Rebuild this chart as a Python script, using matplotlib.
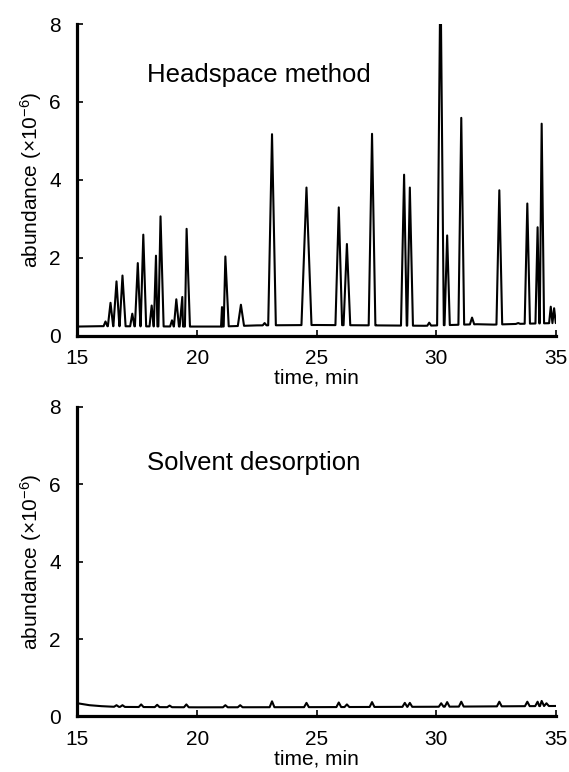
import numpy as np
import matplotlib.pyplot as plt

plt.rcParams['font.family'] = ['Liberation Sans', 'DejaVu Sans']
plt.rcParams['mathtext.fontset'] = 'custom'
plt.rcParams['mathtext.rm'] = 'Liberation Sans'
plt.rcParams['mathtext.it'] = 'Liberation Sans:italic'

# headspace chromatogram: peak retention times (min), apex heights (x10^6), half base widths (min)
hs_time = [16.17, 16.38, 16.63, 16.88, 17.29, 17.52, 17.75, 18.10, 18.28, 18.47,
           18.95, 19.13, 19.38, 19.56, 21.04, 21.18, 21.83, 22.82, 23.13, 24.57,
           25.92, 26.26, 27.31, 28.65, 28.89, 29.70, 30.17, 30.45, 31.04, 31.49,
           32.63, 33.42, 33.80, 34.23, 34.40, 34.78, 34.92]
hs_height = [0.36, 0.84, 1.39, 1.54, 0.56, 1.86, 2.59, 0.77, 2.05, 3.06,
             0.39, 0.93, 0.99, 2.74, 0.73, 2.03, 0.79, 0.32, 5.17, 3.80,
             3.29, 2.35, 5.18, 4.13, 3.80, 0.33, 9.50, 2.57, 5.59, 0.46,
             3.73, 0.32, 3.39, 2.78, 5.44, 0.74, 0.70]
hs_width = [0.08, 0.11, 0.13, 0.13, 0.09, 0.12, 0.12, 0.09, 0.10, 0.13,
            0.08, 0.11, 0.11, 0.15, 0.07, 0.14, 0.13, 0.08, 0.16, 0.21,
            0.14, 0.14, 0.14, 0.13, 0.13, 0.08, 0.14, 0.11, 0.12, 0.09,
            0.12, 0.10, 0.11, 0.09, 0.10, 0.07, 0.07]
hs_base_t = [15, 16, 19.7, 21, 22.5, 25, 27.5, 29.5, 31.7, 32.4, 33.5, 35]
hs_base_y = [0.23, 0.24, 0.23, 0.23, 0.26, 0.27, 0.26, 0.25, 0.29, 0.28, 0.30, 0.32]

# solvent desorption chromatogram
sd_time = [16.63, 16.88, 17.66, 18.33, 18.85, 19.55, 21.18, 21.80, 23.13, 24.57,
           25.92, 26.26, 27.31, 28.68, 28.89, 30.20, 30.45, 31.04, 32.63, 33.80,
           34.23, 34.40, 34.60]
sd_height = [0.29, 0.29, 0.31, 0.30, 0.28, 0.31, 0.29, 0.29, 0.39, 0.35,
             0.36, 0.31, 0.37, 0.35, 0.35, 0.34, 0.37, 0.38, 0.38, 0.38,
             0.38, 0.40, 0.34]
sd_width = [0.10] * len(sd_time)
sd_base_t = [15, 15.5, 16, 16.5, 17, 20, 25, 30, 35]
sd_base_y = [0.34, 0.29, 0.265, 0.25, 0.245, 0.235, 0.24, 0.25, 0.27]

xticks = [15, 20, 25, 30, 35]
yticks = [0, 2, 4, 6, 8]


def trace(pt, ph, pw, bt, by):
    t = list(bt)
    y = list(by)
    for c, h, w in zip(pt, ph, pw):
        for tt, yy in [(c - w, None), (c, h), (c + w, None)]:
            if yy is None:
                yy = np.interp(tt, bt, by)
            t.append(tt)
            y.append(yy)
    order = np.argsort(t)
    return np.array(t)[order], np.array(y)[order]


fig = plt.figure(figsize=(5.69, 7.72), dpi=100)
ax1 = fig.add_axes([0.1362, 0.5654, 0.8410, 0.4035])
ax2 = fig.add_axes([0.1362, 0.0720, 0.8410, 0.4008])

panels = [
    (ax1, hs_time, hs_height, hs_width, hs_base_t, hs_base_y, 'Headspace method', 6.7),
    (ax2, sd_time, sd_height, sd_width, sd_base_t, sd_base_y, 'Solvent desorption', 6.55),
]

for ax, pt, ph, pw, bt, by, title, ty in panels:
    t, y = trace(pt, ph, pw, bt, by)
    ax.plot(t, y, color='black', lw=1.5, solid_joinstyle='round')
    ax.set_xlim(15, 35)
    ax.set_ylim(0, 8)
    ax.set_xticks(xticks)
    ax.set_yticks(yticks)
    for s in ['top', 'right']:
        ax.spines[s].set_visible(False)
    for s in ['left', 'bottom']:
        ax.spines[s].set_linewidth(2.3)
    ax.tick_params(direction='in', length=4, width=1.2, labelsize=15)
    ax.tick_params(axis='x', pad=10)
    ax.tick_params(axis='y', pad=12)
    ax.set_xlabel('time, min', fontsize=15, labelpad=0)
    ax.set_ylabel('abundance (×10$^{-6}$)', fontsize=15, labelpad=4)
    ax.text(17.9, ty, title, fontsize=18.5, va='center', ha='left')

fig.savefig('out.png', dpi=100)
